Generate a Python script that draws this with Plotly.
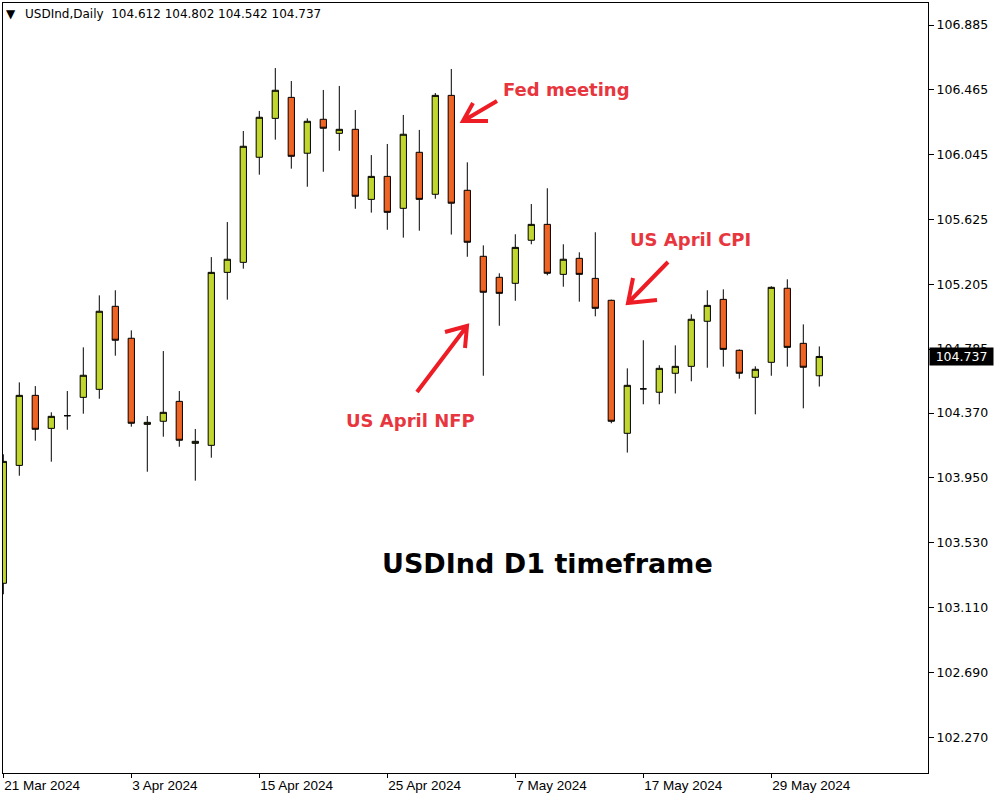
import plotly.graph_objects as go

# ---------------- data ----------------
dates = [
    "2024-03-21", "2024-03-22", "2024-03-25", "2024-03-26", "2024-03-27", "2024-03-28",
    "2024-04-01", "2024-04-02", "2024-04-03", "2024-04-04", "2024-04-05",
    "2024-04-08", "2024-04-09", "2024-04-10", "2024-04-11", "2024-04-12",
    "2024-04-15", "2024-04-16", "2024-04-17", "2024-04-18", "2024-04-19",
    "2024-04-22", "2024-04-23", "2024-04-24", "2024-04-25", "2024-04-26",
    "2024-04-29", "2024-04-30", "2024-05-01", "2024-05-02", "2024-05-03",
    "2024-05-06", "2024-05-07", "2024-05-08", "2024-05-09", "2024-05-10",
    "2024-05-13", "2024-05-14", "2024-05-15", "2024-05-16", "2024-05-17",
    "2024-05-20", "2024-05-21", "2024-05-22", "2024-05-23", "2024-05-24",
    "2024-05-27", "2024-05-28", "2024-05-29", "2024-05-30", "2024-05-31",
    "2024-06-03",
]

open_ = [103.267, 104.031, 104.485, 104.271, 104.353, 104.472, 104.524, 105.062, 104.855, 104.297,
         104.317, 104.446, 104.174, 104.161, 105.282, 105.347, 106.028, 106.280, 106.416, 106.054,
         106.274, 106.183, 106.209, 105.755, 105.904, 105.697, 106.060, 105.788, 106.429, 105.814,
         105.386, 105.250, 105.211, 105.490, 105.593, 105.269, 105.373, 105.243, 105.101, 104.239,
         104.527, 104.505, 104.628, 104.673, 104.965, 105.107, 104.777, 104.602, 104.699, 105.179,
         104.822, 104.612]
high = [104.103, 104.569, 104.545, 104.375, 104.513, 104.796, 105.133, 105.166, 104.906, 104.351,
        104.772, 104.513, 104.267, 105.381, 105.608, 106.198, 106.328, 106.606, 106.522, 106.280,
        106.464, 106.490, 106.334, 106.042, 106.114, 106.302, 106.205, 106.444, 106.600, 105.995,
        105.457, 105.276, 105.529, 105.725, 105.827, 105.464, 105.412, 105.542, 105.105, 104.660,
        104.842, 104.680, 104.809, 105.010, 105.166, 105.172, 104.783, 104.673, 105.192, 105.237,
        104.945, 104.802]
low = [103.196, 103.964, 104.191, 104.055, 104.262, 104.366, 104.463, 104.742, 104.282, 103.990,
       104.217, 104.152, 103.932, 104.081, 105.105, 105.306, 105.915, 106.142, 105.954, 105.837,
       105.934, 106.070, 105.694, 105.669, 105.558, 105.507, 105.552, 105.759, 105.527, 105.383,
       104.612, 104.936, 105.098, 105.464, 105.263, 105.189, 105.092, 104.997, 104.304, 104.114,
       104.427, 104.427, 104.497, 104.576, 104.664, 104.671, 104.593, 104.362, 104.612, 104.671,
       104.401, 104.542]
close = [104.057, 104.485, 104.265, 104.349, 104.353, 104.615, 105.030, 104.842, 104.304, 104.310,
         104.375, 104.194, 104.187, 105.282, 105.367, 106.099, 106.287, 106.462, 106.034, 106.261,
         106.216, 106.209, 105.775, 105.904, 105.671, 106.177, 105.755, 106.429, 105.730, 105.477,
         105.153, 105.146, 105.444, 105.593, 105.276, 105.367, 105.269, 105.049, 104.317, 104.550,
         104.527, 104.660, 104.673, 104.978, 105.068, 104.783, 104.628, 104.654, 105.185, 104.796,
         104.667, 104.737]

x_tick_dates = ["2024-03-21", "2024-04-03", "2024-04-15", "2024-04-25", "2024-05-07", "2024-05-17", "2024-05-29"]
x_tick_text = ["21 Mar 2024", "3 Apr 2024", "15 Apr 2024", "25 Apr 2024", "7 May 2024", "17 May 2024", "29 May 2024"]
y_tick_vals = [106.885, 106.465, 106.045, 105.625, 105.205, 104.785, 104.370, 103.950, 103.530, 103.110, 102.690, 102.270]
y_tick_text = ["106.885", "106.465", "106.045", "105.625", "105.205", "104.785", "104.370", "103.950",
               "103.530", "103.110", "102.690", "102.270"]

symbol = "USDInd"
period = "Daily"
title_text = "USDInd D1 timeframe"
events = ["Fed meeting", "US April CPI", "US April NFP"]

# ---------------- layout helpers ----------------
W, H = 1000, 800
ML, MR, MT, MB = 3, 72, 3, 27
PW, PH = W - ML - MR, H - MT - MB


def px(x):
    return (x - ML) / PW


def py(y):
    return (H - MB - y) / PH


GREEN = "#C1D62F"
ORANGE = "#F16323"
RED_TXT = "#E8363E"
RED_ARROW = "#EE1C24"

fig = go.Figure()
fig.add_trace(go.Candlestick(
    x=dates, open=open_, high=high, low=low, close=close,
    increasing=dict(fillcolor=GREEN, line=dict(color="black", width=1)),
    decreasing=dict(fillcolor=ORANGE, line=dict(color="black", width=1)),
    whiskerwidth=0, hoverinfo="skip", showlegend=False,
))

annotations = []
# header
annotations.append(dict(xref="paper", yref="paper", x=px(4), y=py(5), xanchor="left", yanchor="top",
                        text="▼", showarrow=False, font=dict(family="DejaVu Sans", size=12, color="black")))
annotations.append(dict(xref="paper", yref="paper", x=px(23), y=py(5), xanchor="left", yanchor="top",
                        text=f"{symbol},{period}\u00a0\u00a0{open_[-1]:.3f} {high[-1]:.3f} {low[-1]:.3f} {close[-1]:.3f}",
                        showarrow=False, font=dict(family="DejaVu Sans", size=12, color="black")))
# title
annotations.append(dict(xref="paper", yref="paper", x=px(547.5), y=py(563), xanchor="center", yanchor="middle",
                        text=f"<b>{title_text}</b>", showarrow=False,
                        font=dict(family="DejaVu Sans", size=27, color="black")))
# events
for txt, cx, cy in zip(events, [566, 690, 410], [89, 239, 420]):
    annotations.append(dict(xref="paper", yref="paper", x=px(cx), y=py(cy), xanchor="center", yanchor="middle",
                            text=f"<b>{txt}</b>", showarrow=False,
                            font=dict(family="DejaVu Sans", size=18, color=RED_TXT)))
# current price box
annotations.append(dict(xref="paper", yref="y", x=1, y=close[-1], xanchor="left", yanchor="middle",
                        xshift=1, text=f"{close[-1]:.3f}", showarrow=False, bgcolor="black",
                        width=61, height=15, borderpad=1,
                        font=dict(family="DejaVu Sans", size=12.5, color="white")))

# hand drawn style arrows (tail, tip, wing1, wing2) in pixel space
arrows = [
    ((497, 101), (463, 121), (473, 103), (488, 121)),
    ((668, 262), (628, 303), (633, 278), (657, 300)),
    ((417, 392), (467, 326), (445, 332), (465, 348)),
]
shapes = []
for tail, tip, w1, w2 in arrows:
    path = (f"M {px(tail[0])},{py(tail[1])} L {px(tip[0])},{py(tip[1])} "
            f"M {px(w1[0])},{py(w1[1])} L {px(tip[0])},{py(tip[1])} L {px(w2[0])},{py(w2[1])}")
    shapes.append(dict(type="path", xref="paper", yref="paper", path=path,
                       line=dict(color=RED_ARROW, width=4)))

fig.update_layout(
    width=W, height=H,
    margin=dict(l=ML, r=MR, t=MT, b=MB),
    paper_bgcolor="white", plot_bgcolor="white",
    boxgap=0.44,
    hovermode=False,
    showlegend=False,
    annotations=annotations,
    shapes=shapes,
    xaxis=dict(
        type="category", range=[-0.019, 57.794],
        rangeslider=dict(visible=False),
        showgrid=False, zeroline=False,
        showline=True, linecolor="black", linewidth=1, mirror=True,
        ticks="outside", ticklen=4, tickcolor="black", tickwidth=1,
        tickmode="array", tickvals=x_tick_dates, ticktext=x_tick_text,
        ticklabelposition="outside right",
        tickfont=dict(family="Liberation Sans", size=13.5, color="black"),
        fixedrange=True, automargin=False,
    ),
    yaxis=dict(
        side="right", range=[102.0376, 107.0276],
        showgrid=False, zeroline=False,
        showline=True, linecolor="black", linewidth=1, mirror=True,
        ticks="outside", ticklen=5, tickcolor="black", tickwidth=1,
        tickmode="array", tickvals=y_tick_vals, ticktext=y_tick_text,
        tickfont=dict(family="DejaVu Sans", size=12.5, color="black"),
        fixedrange=True, automargin=False,
    ),
)

fig.write_html(
    "out.html",
    config={"displayModeBar": False, "staticPlot": True},
    post_script="document.body.style.margin='0';document.body.style.padding='0';",
)
